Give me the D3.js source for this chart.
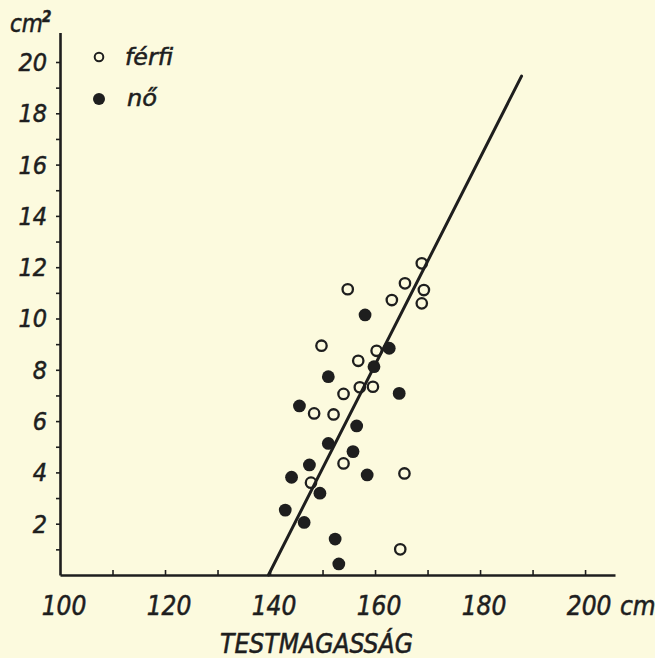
<!DOCTYPE html>
<html><head><meta charset="utf-8">
<script src="https://cdn.jsdelivr.net/npm/d3@7"></script>
<style>
html,body{margin:0;padding:0;background:#fcfade;}
svg{display:block;}
text{font-family:"DejaVu Sans Condensed","DejaVu Sans",sans-serif;font-style:italic;fill:#1e1e1e;stroke:#1e1e1e;stroke-width:0.5;}
</style></head><body>
<script>
// ---- data ----
const xTickValues = [110,120,130,140,150,160,170,180,190,200];
const xTickLabels = [100,120,140,160,180,200];
const yTickValues = [1,2,3,4,5,6,7,8,9,10,11,12,13,14,15,16,17,18,19,20];
const yTickLabels = [2,4,6,8,10,12,14,16,18,20];
const maleX = [168.9,154.8,165.7,169.3,163.2,168.9,149.8,160.3,156.8,157.1,159.6,154.0,148.4,152.1,154.0,165.6,147.8,164.8];
const maleY = [12.15,11.14,11.37,11.11,10.72,10.59,8.94,8.74,8.35,7.32,7.34,7.06,6.30,6.26,4.35,3.96,3.60,1.00];
const femaleX = [158.1,162.7,159.8,151.1,164.6,145.6,156.5,151.1,155.8,147.5,158.5,144.1,149.5,142.9,146.5,152.4,153.1];
const femaleY = [10.14,8.84,8.12,7.73,7.08,6.59,5.81,5.13,4.81,4.29,3.90,3.81,3.19,2.53,2.05,1.40,0.43];
const lineX = [139.7,187.9];
const lineY = [0,19.45];
const legendLabels = ["férfi","nő"];

const W=655,H=658, ink="#1e1e1e";
const svg=d3.select("body").append("svg").attr("width",W).attr("height",H);
svg.append("rect").attr("width",W).attr("height",H).attr("fill","#fcfade");

const x=d3.scaleLinear().domain([100,205.7]).range([60,615]);
const y=d3.scaleLinear().domain([0,21.15]).range([575,32.5]);

// x axis
const gx=svg.append("g").attr("transform",`translate(0,${y(0)})`)
  .call(d3.axisBottom(x).tickValues(xTickValues).tickSizeInner(-5).tickSizeOuter(0).tickFormat(()=>"").tickPadding(0));
gx.select(".domain").attr("stroke",ink).attr("stroke-width",2.6);
gx.selectAll(".tick line").attr("stroke",ink).attr("stroke-width",1.6);
gx.selectAll("text").remove();
svg.append("g").selectAll("text").data(xTickLabels).join("text")
  .attr("x",d=>x(d)+4).attr("y",615).attr("text-anchor","middle")
  .attr("font-size",26).text(d=>d);
svg.append("text").attr("x",620).attr("y",615).attr("font-size",26).text("cm");
svg.append("text").attr("x",220).attr("y",653).attr("font-size",26)
  .attr("textLength",193).attr("lengthAdjust","spacingAndGlyphs").text("TESTMAGASSÁG");

// y axis
const gy=svg.append("g").attr("transform",`translate(${x(100)},0)`)
  .call(d3.axisLeft(y).tickValues(yTickValues).tickSizeInner(4).tickSizeOuter(0).tickFormat(()=>""));
gy.select(".domain").attr("stroke",ink).attr("stroke-width",2.6);
gy.selectAll(".tick line").attr("stroke",ink).attr("stroke-width",1.6);
gy.selectAll("text").remove();
svg.append("g").selectAll("text").data(yTickLabels).join("text")
  .attr("x",47).attr("y",d=>y(d)+9).attr("text-anchor","end")
  .attr("font-size",25).text(d=>d);
svg.append("text").attr("x",10).attr("y",32).attr("font-size",24).text("cm");
svg.append("text").attr("x",42).attr("y",22).attr("font-size",15).attr("font-weight","bold").text("2");

// regression line
svg.append("line").attr("x1",x(lineX[0])).attr("y1",y(lineY[0])).attr("x2",x(lineX[1])).attr("y2",y(lineY[1]))
  .attr("stroke",ink).attr("stroke-width",3).attr("stroke-linecap","round");

// points
svg.append("g").selectAll("circle").data(maleX.map((v,i)=>[v,maleY[i]])).join("circle")
  .attr("cx",d=>x(d[0])).attr("cy",d=>y(d[1])).attr("r",5.2)
  .attr("fill","none").attr("stroke",ink).attr("stroke-width",2.3);
svg.append("g").selectAll("circle").data(femaleX.map((v,i)=>[v,femaleY[i]])).join("circle")
  .attr("cx",d=>x(d[0])).attr("cy",d=>y(d[1])).attr("r",6.4).attr("fill",ink);

// legend
svg.append("circle").attr("cx",99).attr("cy",57).attr("r",4.3).attr("fill","none").attr("stroke",ink).attr("stroke-width",2);
svg.append("circle").attr("cx",99).attr("cy",99).attr("r",6).attr("fill",ink);
svg.append("text").attr("x",125).attr("y",65).attr("font-size",23)
  .attr("textLength",48).attr("lengthAdjust","spacingAndGlyphs").text(legendLabels[0]);
svg.append("text").attr("x",127).attr("y",106).attr("font-size",23)
  .attr("textLength",30).attr("lengthAdjust","spacingAndGlyphs").text(legendLabels[1]);
</script>
</body></html>
